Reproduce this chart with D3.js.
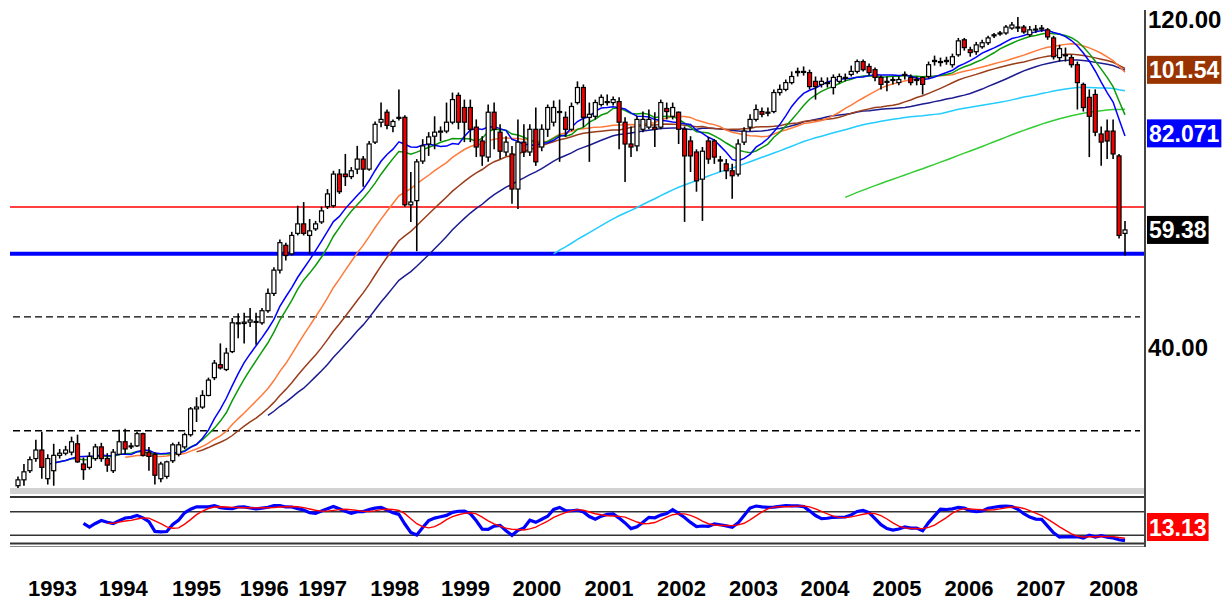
<!DOCTYPE html>
<html><head><meta charset="utf-8">
<script src="https://cdn.jsdelivr.net/npm/d3@7"></script>
<style>
html,body{margin:0;padding:0;background:#fff;}
svg{display:block;}
text{font-family:"Liberation Sans",Arial,Helvetica,sans-serif;font-weight:bold;}
</style></head><body>
<svg id="c" width="1232" height="601"></svg>
<script>
// ---------- DATA (monthly candles) ----------
const opens = [
25.2,25.7,26.5,27.6,28.4,25.8,26.5,27.9,28.1,28.2,
29.0,27.1,26.8,27.6,28.7,27.6,26.5,28.0,29.2,28.7,
28.8,30.0,28.2,28.0,25.8,26.0,27.4,28.0,28.7,29.9,
32.6,32.8,34.1,36.2,37.8,37.2,39.5,43.5,43.4,43.6,
43.6,43.5,45.3,48.0,51.9,56.4,54.8,58.7,60.6,58.3,
59.6,61.0,64.2,64.4,71.6,71.6,71.0,72.8,75.3,72.8,
79.7,85.2,88.1,84.0,86.3,86.6,64.6,65.5,74.8,79.2,
81.3,82.4,82.7,85.2,93.2,89.5,89.5,83.8,80.0,75.8,
88.1,82.4,77.1,76.6,68.1,79.7,77.1,83.2,78.4,83.2,
85.2,88.3,86.6,83.2,91.0,95.7,86.6,86.9,90.4,91.3,
91.0,91.3,85.2,79.2,78.7,83.2,83.8,83.8,83.8,89.2,
86.9,88.1,83.2,80.0,77.1,70.4,80.0,80.0,75.1,74.1,
72.4,71.6,79.7,83.8,86.0,88.3,88.1,88.3,94.1,95.1,
97.3,100.6,101.0,100.6,97.7,96.7,97.3,95.7,97.7,99.0,
100.0,101.0,104.4,102.7,101.6,99.0,97.7,98.3,97.3,100.0,
99.0,98.3,99.0,99.3,104.4,104.4,104.4,103.3,106.8,112.3,
108.6,107.9,109.7,111.2,113.8,114.6,114.9,116.8,117.2,117.2,
114.2,116.4,116.8,116.1,113.0,105.8,106.8,105.8,103.3,96.7,
92.6,93.5,81.9,82.7,82.7,76.1,58.7];
const highs = [
26.0,27.1,27.8,29.4,30.2,28.0,29.0,28.5,28.8,29.7,
29.9,27.7,28.2,29.0,29.1,28.1,28.5,30.4,30.5,29.1,
30.2,30.1,28.7,28.2,27.3,27.4,29.1,29.2,30.1,32.8,
33.9,34.7,36.2,38.4,40.6,40.0,44.2,44.9,45.0,45.7,
45.0,45.7,48.8,52.4,57.5,56.9,59.0,64.4,65.2,61.6,
61.2,64.2,68.1,72.4,72.8,76.6,73.3,78.7,76.1,80.0,
85.4,91.0,88.9,86.0,95.1,87.2,72.1,75.3,80.5,82.4,
86.9,84.0,91.0,94.1,94.1,91.9,91.9,86.0,81.3,90.4,
91.0,84.6,81.3,78.7,86.0,84.6,84.6,89.5,84.6,90.4,
91.6,91.9,88.3,91.0,97.7,96.7,91.0,91.9,93.5,93.5,
92.9,92.6,86.6,84.0,86.9,88.3,88.9,88.1,91.9,91.0,
91.0,88.3,84.0,81.3,77.8,78.4,81.1,80.5,76.1,75.3,
74.1,80.5,83.8,87.5,90.4,89.5,89.5,95.1,96.7,98.3,
101.0,102.3,102.7,101.6,99.3,99.0,99.0,100.0,100.3,100.3,
103.0,105.1,105.1,103.7,102.3,99.6,99.3,99.3,99.3,101.0,
100.0,99.3,99.3,104.4,106.5,105.8,106.1,107.2,113.0,113.0,
109.7,111.5,112.3,113.8,114.9,115.7,118.0,119.2,121.2,118.0,
117.6,118.0,118.0,116.8,113.8,110.4,109.4,106.8,104.4,97.3,
95.1,95.1,84.0,86.0,86.0,76.6,61.2];
const lows = [
25.0,25.2,26.3,27.3,25.8,25.3,25.2,27.6,27.9,27.9,
27.2,25.7,26.6,27.4,27.3,26.4,26.3,27.9,28.0,28.5,
28.7,27.8,26.5,25.3,25.5,25.8,27.2,27.8,28.5,29.7,
31.2,32.6,34.0,35.9,37.2,37.0,39.3,41.3,40.6,42.9,
40.4,43.2,45.0,47.6,51.3,53.6,54.5,58.3,58.3,54.8,
59.2,60.6,63.7,64.0,67.0,68.8,70.4,71.6,68.6,72.4,
79.2,83.8,83.2,82.4,85.7,64.2,61.0,55.3,74.1,76.1,
77.8,80.0,82.1,84.6,83.2,79.7,79.7,75.8,73.6,74.6,
77.8,75.3,76.1,64.8,63.7,75.8,76.1,73.6,77.3,81.1,
84.0,74.6,81.1,82.7,90.4,83.8,74.6,86.0,89.8,90.1,
90.1,77.8,69.7,75.8,77.3,82.4,83.2,78.4,83.2,86.0,
86.0,79.2,61.0,72.1,67.5,61.2,74.1,74.1,72.1,70.4,
65.9,71.0,78.9,82.7,85.4,86.6,86.9,87.8,93.2,94.5,
96.7,99.3,99.6,95.1,91.9,95.7,95.7,93.5,97.0,97.7,
99.3,100.3,101.0,99.6,97.7,95.1,94.5,96.7,96.4,98.3,
96.4,96.4,93.5,98.6,103.0,102.7,103.3,102.3,106.1,108.3,
106.1,106.8,109.0,110.4,113.0,113.8,114.2,116.1,115.3,114.6,
113.4,114.9,115.3,112.3,105.1,104.4,104.4,102.3,88.9,88.3,
75.8,81.3,73.6,75.3,75.3,57.7,54.5];
const closes = [
25.7,26.4,27.5,28.4,26.8,27.6,27.9,28.1,28.4,29.2,
27.3,26.6,27.8,28.7,27.6,27.0,28.2,29.2,28.5,28.8,
30.0,27.9,27.8,26.1,27.1,27.3,28.9,28.9,29.9,32.6,
32.8,34.1,35.9,38.0,37.4,39.3,43.5,43.4,43.6,43.9,
43.7,45.3,48.0,51.9,56.9,54.5,58.3,60.6,58.7,59.2,
60.6,63.3,67.0,71.6,67.5,71.0,72.4,75.3,72.8,79.2,
84.6,86.0,84.3,85.4,86.6,64.6,65.2,74.6,78.7,81.1,
82.4,82.7,85.2,91.9,85.2,85.2,83.2,78.4,76.1,88.1,
83.2,77.3,79.7,68.1,79.7,77.1,83.2,74.6,83.2,89.5,
89.5,88.1,83.2,89.8,95.7,86.6,87.5,91.0,92.6,91.0,
91.9,85.2,79.2,78.4,86.0,86.0,86.0,83.2,91.0,88.3,
89.5,83.2,76.1,76.1,70.0,77.3,75.3,75.8,74.8,72.4,
71.2,79.2,82.7,86.0,88.9,87.5,88.1,94.1,95.1,97.3,
99.3,101.0,101.0,96.0,96.0,97.7,97.3,99.0,99.3,99.0,
101.0,104.4,101.6,100.6,99.0,96.7,97.7,98.3,98.3,100.0,
97.3,98.3,96.7,103.3,104.8,104.4,104.8,106.1,111.9,109.4,
107.6,110.4,111.2,113.0,114.2,114.9,117.2,118.0,117.2,115.3,
116.1,116.1,116.8,113.4,106.1,109.0,106.8,103.3,97.3,89.5,
86.9,82.4,79.7,80.0,76.6,58.3,59.38];

const yearLabels = ["1993","1994","1995","1996","1997","1998","1999","2000","2001","2002","2003","2004","2005","2006","2007","2008"];
const yearPos = [5.7,17.6,29.9,41.3,51.1,63.2,75.1,87.1,99.2,111.4,123.5,135.5,147.6,159.7,171.8,184.0];
const priceTicks = [120, 40];
const solidLevels = [64.15, 54.81];
const solidColors = ["#ff0000", "#0000ff"];
const solidWidths = [1.5, 4];
const dashedLevels = [44.38, 30.30];
const maPeriods = [140, 91, 49, 37, 25, 13, 10];
const maStarts  = [139, 90, 42, 30, 18, 6, 5];
const maColors  = ["#33cc33", "#22ccff", "#1c1c90", "#9a3d1a", "#ff7a3a", "#0a9a0a", "#0000ff"];
const boxValues = [101.54, 82.071, 59.38];
const boxLabels = ["101.54", "82.071", "59.38"];
const boxColors = ["#993300", "#0000ff", "#000000"];
const stochLevels = [80, 20];
const stochBoxLabel = "13.13";
const stochBoxValue = 13.13;

// ---------- LAYOUT ----------
const svg = d3.select("#c");
const N = closes.length;
const pL = 10, pR = 1145, pT = 10, pB = 488;
const x = d3.scaleLinear().domain([0, N - 1]).range([18, 1125]);
const y = d3.scaleLog().domain([24.84, 120]).range([490, 20]);
const ys = d3.scaleLinear().domain([0, 100]).range([543, 504]);

svg.append("rect").attr("width", 1232).attr("height", 601).attr("fill", "#ffffff");

svg.append("clipPath").attr("id", "pc").append("rect")
  .attr("x", pL).attr("y", pT).attr("width", pR - pL).attr("height", pB - pT);

const main = svg.append("g").attr("clip-path", "url(#pc)");

// horizontal level lines
main.selectAll(".dl").data(dashedLevels).join("line")
  .attr("x1", 13).attr("x2", 1140)
  .attr("y1", d => y(d)).attr("y2", d => y(d))
  .attr("stroke", "#000").attr("stroke-width", 1.4).attr("stroke-dasharray", "7,4");
main.selectAll(".sl").data(solidLevels).join("line")
  .attr("x1", pL).attr("x2", pR)
  .attr("y1", d => y(d)).attr("y2", d => y(d))
  .attr("stroke", (d, i) => solidColors[i]).attr("stroke-width", (d, i) => solidWidths[i]);

// moving averages of the closes
maPeriods.forEach((p, k) => {
  const pts = [];
  for (let i = maStarts[k]; i < N; i++) {
    const s = Math.max(0, i - p + 1);
    pts.push([i, d3.mean(closes.slice(s, i + 1))]);
  }
  main.append("path").datum(pts)
    .attr("fill", "none").attr("stroke", maColors[k]).attr("stroke-width", 1.5)
    .attr("d", d3.line().x(d => x(d[0])).y(d => y(d[1])));
});

// candles
const idx = d3.range(N);
const cg = main.append("g");
cg.selectAll(".w").data(idx).join("line")
  .attr("x1", i => x(i)).attr("x2", i => x(i))
  .attr("y1", i => y(highs[i])).attr("y2", i => y(lows[i]))
  .attr("stroke", "#000").attr("stroke-width", 1.6);
cg.selectAll(".b").data(idx).join("rect")
  .attr("x", i => x(i) - 2).attr("width", 4)
  .attr("y", i => y(Math.max(opens[i], closes[i])))
  .attr("height", i => Math.max(1, y(Math.min(opens[i], closes[i])) - y(Math.max(opens[i], closes[i]))))
  .attr("fill", i => closes[i] < opens[i] ? "#ee0000" : "#ffffff")
  .attr("stroke", "#000").attr("stroke-width", 1.2);

// separator between panels
svg.append("rect").attr("x", pL).attr("y", 488).attr("width", pR - pL).attr("height", 6).attr("fill", "#d2d2d2");
svg.append("line").attr("x1", pL).attr("x2", pR).attr("y1", 497).attr("y2", 497).attr("stroke", "#333").attr("stroke-width", 2);

// stochastic (computed from the candles): %K(10) slowed 3, %D 5
const rawK = closes.map((c, i) => {
  if (i < 9) return null;
  const hh = d3.max(highs.slice(i - 9, i + 1)), ll = d3.min(lows.slice(i - 9, i + 1));
  return 100 * (c - ll) / (hh - ll);
});
const slowK = rawK.map((v, i) => i < 11 ? null : d3.mean(rawK.slice(i - 2, i + 1)));
const dLine = slowK.map((v, i) => i < 15 ? null : d3.mean(slowK.slice(i - 4, i + 1)));

svg.selectAll(".stl").data(stochLevels).join("line")
  .attr("x1", pL).attr("x2", pR)
  .attr("y1", d => ys(d)).attr("y2", d => ys(d))
  .attr("stroke", "#333").attr("stroke-width", 1.5);
svg.append("line").attr("x1", pL).attr("x2", pR).attr("y1", 543.5).attr("y2", 543.5).attr("stroke", "#333").attr("stroke-width", 2);
svg.append("line").attr("x1", pL).attr("x2", pR).attr("y1", 546.5).attr("y2", 546.5).attr("stroke", "#888").attr("stroke-width", 1);

const sl = d3.line().defined(d => d[1] != null).x(d => x(d[0])).y(d => ys(d[1]));
svg.append("path").datum(slowK.map((v, i) => [i, v]))
  .attr("fill", "none").attr("stroke", "#0000ff").attr("stroke-width", 3.2).attr("d", sl);
svg.append("path").datum(dLine.map((v, i) => [i, v]))
  .attr("fill", "none").attr("stroke", "#ff0000").attr("stroke-width", 1.4).attr("d", sl);

// right axis line
svg.append("line").attr("x1", pR).attr("x2", pR).attr("y1", pT).attr("y2", 547)
  .attr("stroke", "#444").attr("stroke-width", 2);

// price axis labels
const ya = svg.append("g").attr("transform", `translate(${pR},0)`)
  .call(d3.axisRight(y).tickValues(priceTicks).tickFormat(d3.format(".2f")).tickSize(0).tickPadding(3));
ya.select(".domain").remove();
ya.selectAll("text").attr("font-size", 24).attr("fill", "#000")
  .attr("font-family", '"Liberation Sans",Arial,sans-serif').attr("font-weight", "bold");

// value boxes
boxValues.forEach((v, i) => {
  const yc = y(v);
  const g = svg.append("g");
  const t = g.append("text").attr("x", 1149).attr("y", yc + 8.5)
    .attr("font-size", 23).attr("fill", "#fff").text(boxLabels[i]);
  const w = t.node().getComputedTextLength();
  g.insert("rect", "text").attr("x", 1147).attr("y", yc - 14).attr("width", w + 4).attr("height", 28)
    .attr("fill", boxColors[i]);
});
{
  const yc = Math.min(ys(stochBoxValue), 527);
  const g = svg.append("g");
  const t = g.append("text").attr("x", 1149).attr("y", yc + 8.5)
    .attr("font-size", 23).attr("fill", "#fff").text(stochBoxLabel);
  const w = t.node().getComputedTextLength();
  g.insert("rect", "text").attr("x", 1147).attr("y", yc - 14).attr("width", w + 4).attr("height", 28)
    .attr("fill", "#ff0000");
}

// year labels
const xa = svg.append("g").attr("transform", "translate(0,580)")
  .call(d3.axisBottom(x).tickValues(yearPos).tickFormat((d, i) => yearLabels[i]).tickSize(0).tickPadding(0));
xa.select(".domain").remove();
xa.selectAll("text").attr("font-size", 22).attr("fill", "#000").attr("dy", "0.71em")
  .attr("font-family", '"Liberation Sans",Arial,sans-serif').attr("font-weight", "bold");
</script>
</body></html>
